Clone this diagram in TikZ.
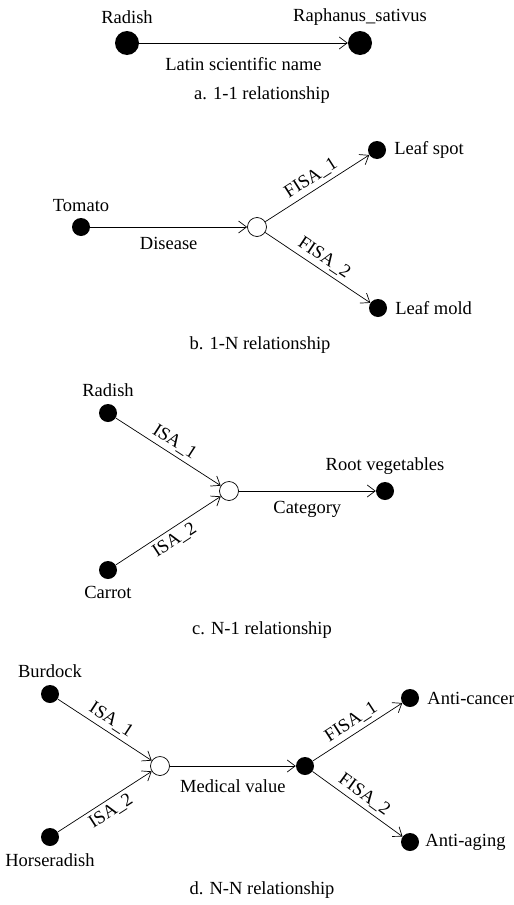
\documentclass[tikz,border=0pt]{standalone}
\usepackage{fontspec}
\setmainfont{Liberation Serif}
\usetikzlibrary{arrows.meta, positioning}

\begin{document}
\begin{tikzpicture}[
    x=1pt, y=-1pt,
    font=\fontsize{18.5}{22}\selectfont,
    dot/.style={circle, fill=black, inner sep=0pt, minimum size=#1},
    dot/.default=18pt,
    hub/.style={circle, draw=black, fill=white, line width=0.7pt,
                inner sep=0pt, minimum size=19pt},
    txt/.style={inner sep=1pt},
    rel/.style={-{Straight Barb[length=8pt, width=12pt]}, line width=0.7pt},
    lab/.style={midway, sloped, inner sep=4pt},
    rellbl/.style={midway, below=#1, inner sep=1pt}
  ]
  \useasboundingbox (0,0) rectangle (514,905);

  % a. 1-1
  \node[dot=24pt] (ra) at (127,43) {};
  \node[dot=24pt] (rs) at (360,43) {};
  \node[txt, above=6pt of ra] (raLbl) {Radish};
  \node[txt, above=4pt of rs] (rsLbl) {Raphanus\_sativus};
  \draw[rel] (ra) -- (rs) node[rellbl=13pt] {Latin scientific name};
  \node (capA) at (262,95) {a. 1-1 relationship};

  % b. 1-N
  \node[dot] (tom)  at (81,227)  {};
  \node[hub] (hubB) at (257,227) {};
  \node[dot] (spot) at (377,150) {};
  \node[dot] (mold) at (378,308) {};
  \node[txt, above=5pt of tom]  (tomLbl)  {Tomato};
  \node[txt, right=7pt of spot] (spotLbl) {Leaf spot};
  \node[txt, right=7pt of mold] (moldLbl) {Leaf mold};
  \draw[rel] (tom) -- (hubB) node[rellbl=9pt] {Disease};
  \node (capB) at (260,345) {b. 1-N relationship};

  % c. N-1
  \node[dot] (rad)  at (108,413) {};
  \node[dot] (car)  at (108,570) {};
  \node[hub] (hubC) at (229,491) {};
  \node[dot] (root) at (385,491) {};
  \node[txt, above=6pt of rad]  (radLbl)  {Radish};
  \node[txt, below=6pt of car]  (carLbl)  {Carrot};
  \node[txt, above=6pt of root] (rootLbl) {Root vegetables};
  \draw[rel] (hubC) -- (root) node[rellbl=9pt] {Category};
  \node (capC) at (262,630) {c. N-1 relationship};

  % d. N-N
  \node[dot] (bur)   at (50,694)  {};
  \node[dot] (hor)   at (50,837)  {};
  \node[hub] (hubD)  at (160,766) {};
  \node[dot] (med)   at (305,766) {};
  \node[dot] (canc)  at (410,698) {};
  \node[dot] (aging) at (410,842) {};
  \node[txt, above=6pt of bur]   (burLbl)   {Burdock};
  \node[txt, below=6pt of hor]   (horLbl)   {Horseradish};
  \node[txt, right=7pt of canc]  (cancLbl)  {Anti-cancer};
  \node[txt, right=5pt of aging] (agingLbl) {Anti-aging};
  \draw[rel] (hubD) -- (med) node[rellbl=12pt] {Medical value};
  \node (capD) at (262,890) {d. N-N relationship};

  % sloped ISA / FISA links
  \foreach \a/\b/\t/\side in {hubB/spot/FISA\_1/above, hubB/mold/FISA\_2/above,
                              rad/hubC/ISA\_1/above, car/hubC/ISA\_2/below,
                              bur/hubD/ISA\_1/above, hor/hubD/ISA\_2/below,
                              med/canc/FISA\_1/above, med/aging/FISA\_2/above}
    \draw[rel] (\a) -- (\b) node[lab, \side] {\t};

\end{tikzpicture}
\end{document}
